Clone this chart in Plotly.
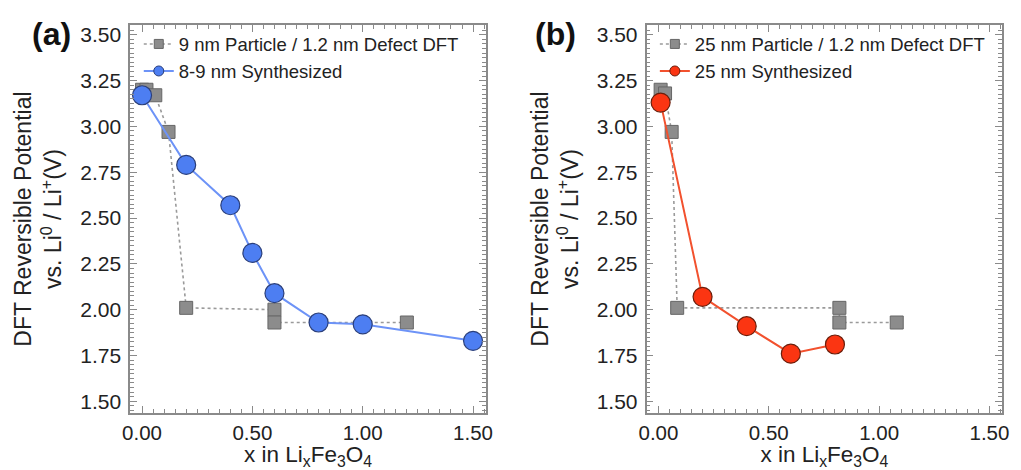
import plotly.graph_objects as go

# Panel (a): 9 nm particle DFT vs 8-9 nm synthesized
a_dft_x = [0.00, 0.02, 0.06, 0.12, 0.20, 0.60, 0.60, 1.20]
a_dft_y = [3.20, 3.20, 3.17, 2.97, 2.01, 2.00, 1.93, 1.93]
a_syn_x = [0.00, 0.20, 0.40, 0.50, 0.60, 0.80, 1.00, 1.50]
a_syn_y = [3.17, 2.79, 2.57, 2.31, 2.09, 1.93, 1.92, 1.83]

# Panel (b): 25 nm particle DFT vs 25 nm synthesized
b_dft_x = [0.01, 0.03, 0.06, 0.085, 0.82, 0.82, 1.08]
b_dft_y = [3.20, 3.18, 2.97, 2.01, 2.01, 1.93, 1.93]
b_syn_x = [0.01, 0.20, 0.40, 0.60, 0.80]
b_syn_y = [3.13, 2.07, 1.91, 1.76, 1.81]

a_dft_name = "9 nm Particle / 1.2 nm Defect DFT"
a_syn_name = "8-9 nm Synthesized"
b_dft_name = "25 nm Particle / 1.2 nm Defect DFT"
b_syn_name = "25 nm Synthesized"

FONT = "Liberation Sans, Arial, sans-serif"
TEXT = "#222222"
AXIS = "#8a8a8a"
GRAY_FILL = "#8c8c8c"
GRAY_EDGE = "#666666"
BLUE_FILL = "#4d7ef2"
BLUE_LINE = "#6d93f7"
RED_FILL = "#fb3512"
RED_LINE = "#f2512e"

fig = go.Figure()


def add_panel(xa, ya, legend, dft_x, dft_y, dft_name, syn_x, syn_y, syn_name,
              fill, line, edge):
    # DFT squares joined by a dotted line
    fig.add_trace(go.Scatter(
        x=dft_x, y=dft_y, xaxis=xa, yaxis=ya, mode="lines+markers",
        line=dict(color="#9a9a9a", width=1.6, dash="dot"),
        marker=dict(symbol="square", size=13, color=GRAY_FILL,
                    line=dict(color=GRAY_EDGE, width=1)),
        showlegend=False))
    # synthesized particle curve
    fig.add_trace(go.Scatter(
        x=syn_x, y=syn_y, xaxis=xa, yaxis=ya, mode="lines+markers",
        line=dict(color=line, width=2),
        marker=dict(symbol="circle", size=19, color=fill,
                    line=dict(color=edge, width=1.2)),
        showlegend=False))
    # legend samples with smaller symbols
    fig.add_trace(go.Scatter(
        x=[None], y=[None], xaxis=xa, yaxis=ya, mode="lines+markers",
        name=dft_name, legend=legend,
        line=dict(color="#9a9a9a", width=1.6, dash="dot"),
        marker=dict(symbol="square", size=9, color=GRAY_FILL,
                    line=dict(color=GRAY_EDGE, width=1))))
    fig.add_trace(go.Scatter(
        x=[None], y=[None], xaxis=xa, yaxis=ya, mode="lines+markers",
        name=syn_name, legend=legend,
        line=dict(color=line, width=2),
        marker=dict(symbol="circle", size=10, color=fill,
                    line=dict(color=edge, width=1))))


add_panel("x", "y", "legend", a_dft_x, a_dft_y, a_dft_name,
          a_syn_x, a_syn_y, a_syn_name, BLUE_FILL, BLUE_LINE, "#2b3f7a")
add_panel("x2", "y2", "legend2", b_dft_x, b_dft_y, b_dft_name,
          b_syn_x, b_syn_y, b_syn_name, RED_FILL, RED_LINE, "#6a1e0c")

x_ticks = [0.0, 0.5, 1.0, 1.5]
x_ticktext = ["0.00", "0.50", "1.00", "1.50"]
y_ticks = [1.5, 1.75, 2.0, 2.25, 2.5, 2.75, 3.0, 3.25, 3.5]
y_ticktext = ["1.50", "1.75", "2.00", "2.25", "2.50", "2.75", "3.00", "3.25", "3.50"]

xaxis_style = dict(
    range=[-0.054, 1.558], tickvals=x_ticks, ticktext=x_ticktext,
    ticks="inside", ticklen=7, tickwidth=1.2, tickcolor=AXIS,
    minor=dict(dtick=0.05, tick0=0, ticks="inside", ticklen=4,
               tickcolor=AXIS, tickwidth=1),
    showline=True, linecolor=AXIS, linewidth=1.5, mirror="allticks",
    showgrid=False, zeroline=False, ticklabelstandoff=0,
    tickfont=dict(family=FONT, size=20.5, color=TEXT),
    title=dict(text="x in Li<sub>x</sub>Fe<sub>3</sub>O<sub>4</sub>",
               font=dict(family=FONT, size=22.5, color=TEXT), standoff=3),
)
yaxis_style = dict(
    range=[1.435, 3.554], tickvals=y_ticks, ticktext=y_ticktext,
    ticks="inside", ticklen=7, tickwidth=1.2, tickcolor=AXIS,
    minor=dict(dtick=0.025, tick0=0, ticks="inside", ticklen=4,
               tickcolor=AXIS, tickwidth=1),
    showline=True, linecolor=AXIS, linewidth=1.5, mirror="allticks",
    showgrid=False, zeroline=False, ticklabelstandoff=3,
    tickfont=dict(family=FONT, size=21, color=TEXT),
    title=dict(text="DFT Reversible Potential<br>vs. Li<sup>0</sup> / Li<sup>+</sup>(V)",
               font=dict(family=FONT, size=23, color=TEXT), standoff=12),
)

legend_style = dict(
    font=dict(family=FONT, size=18.5, color=TEXT),
    bgcolor="rgba(0,0,0,0)", xanchor="left", yanchor="top",
    itemwidth=30, tracegroupgap=0,
)

fig.update_layout(
    width=1021, height=470,
    margin=dict(l=0, r=0, t=0, b=0),
    paper_bgcolor="white", plot_bgcolor="white",
    xaxis=dict(domain=[0.1214, 0.4750], anchor="y", **xaxis_style),
    yaxis=dict(domain=[0.1213, 0.9511], anchor="x", **yaxis_style),
    xaxis2=dict(domain=[0.6347, 0.9883], anchor="y2", **xaxis_style),
    yaxis2=dict(domain=[0.1213, 0.9511], anchor="x2", **yaxis_style),
    legend=dict(x=0.130, y=0.950, **legend_style),
    legend2=dict(x=0.643, y=0.950, **legend_style),
    annotations=[
        dict(text="<b>(a)</b>", x=0.022, y=0.932, xref="paper", yref="paper",
             xanchor="left", yanchor="middle", showarrow=False,
             font=dict(family=FONT, size=32, color="#111111")),
        dict(text="<b>(b)</b>", x=0.522, y=0.932, xref="paper", yref="paper",
             xanchor="left", yanchor="middle", showarrow=False,
             font=dict(family=FONT, size=32, color="#111111")),
    ],
)

fig.write_html("out.html")
